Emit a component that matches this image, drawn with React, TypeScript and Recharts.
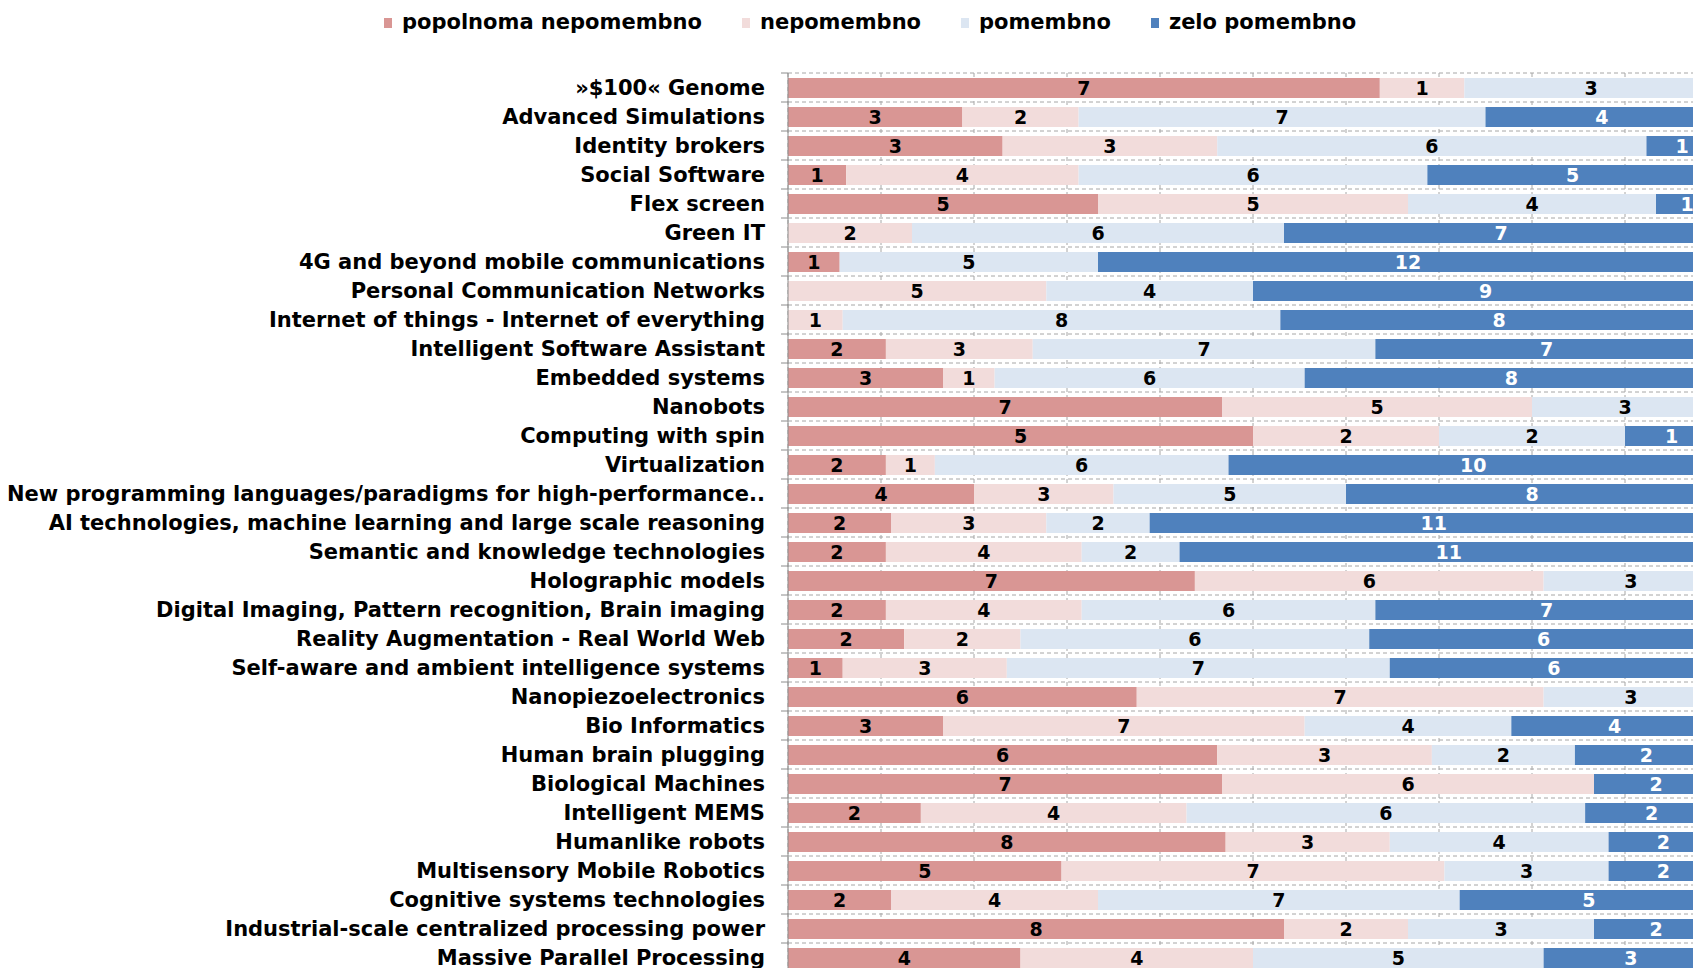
import { BarChart, Bar, XAxis, YAxis, CartesianGrid, Legend, LabelList } from "recharts";

const categories = [
  "»$100« Genome",
  "Advanced Simulations",
  "Identity brokers",
  "Social Software",
  "Flex screen",
  "Green IT",
  "4G and beyond mobile communications",
  "Personal Communication Networks",
  "Internet of things - Internet of everything",
  "Intelligent Software Assistant",
  "Embedded systems",
  "Nanobots",
  "Computing with spin",
  "Virtualization",
  "New programming languages/paradigms for high-performance..",
  "AI technologies, machine learning and large scale reasoning",
  "Semantic and knowledge technologies",
  "Holographic models",
  "Digital Imaging, Pattern recognition, Brain imaging",
  "Reality Augmentation - Real World Web",
  "Self-aware and ambient intelligence systems",
  "Nanopiezoelectronics",
  "Bio Informatics",
  "Human brain plugging",
  "Biological Machines",
  "Intelligent MEMS",
  "Humanlike robots",
  "Multisensory Mobile Robotics",
  "Cognitive systems technologies",
  "Industrial-scale centralized processing power",
  "Massive Parallel Processing",
];

const popolnomaNepomembno = [7, 3, 3, 1, 5, 0, 1, 0, 0, 2, 3, 7, 5, 2, 4, 2, 2, 7, 2, 2, 1, 6, 3, 6, 7, 2, 8, 5, 2, 8, 4];
const nepomembno = [1, 2, 3, 4, 5, 2, 0, 5, 1, 3, 1, 5, 2, 1, 3, 3, 4, 6, 4, 2, 3, 7, 7, 3, 6, 4, 3, 7, 4, 2, 4];
const pomembno = [3, 7, 6, 6, 4, 6, 5, 4, 8, 7, 6, 3, 2, 6, 5, 2, 2, 3, 6, 6, 7, 3, 4, 2, 0, 6, 4, 3, 7, 3, 5];
const zeloPomembno = [0, 4, 1, 5, 1, 7, 12, 9, 8, 7, 8, 0, 1, 10, 8, 11, 11, 0, 7, 6, 6, 0, 4, 2, 2, 2, 2, 2, 5, 2, 3];

const series = [
  { key: "popolnoma", name: "popolnoma nepomembno", color: "#D99694", text: "#000000" },
  { key: "nepomembno", name: "nepomembno", color: "#F2DCDB", text: "#000000" },
  { key: "pomembno", name: "pomembno", color: "#DCE6F2", text: "#000000" },
  { key: "zelo", name: "zelo pomembno", color: "#4F81BD", text: "#FFFFFF" },
];

const data = categories.map((name, i) => ({
  name,
  popolnoma: popolnomaNepomembno[i],
  nepomembno: nepomembno[i],
  pomembno: pomembno[i],
  zelo: zeloPomembno[i],
}));

const FONT = "'DejaVu Sans', Verdana, sans-serif";

function CategoryTick(props: any) {
  const { x, y, payload } = props;
  const half = payload && payload.offset ? payload.offset : 14.5;
  return (
    <g>
      <line x1={x + 16} x2={x + 23} y1={y - half} y2={y - half} stroke="#8C8C8C" />
      <text
        x={x}
        y={y}
        textAnchor="end"
        dominantBaseline="central"
        fontFamily={FONT}
        fontWeight="bold"
        fontSize={21}
        fill="#000"
      >
        {payload.value}
      </text>
    </g>
  );
}

function LegendContent() {
  return (
    <div
      style={{
        height: 44,
        display: "flex",
        alignItems: "center",
        paddingLeft: 384,
        gap: 40,
        fontFamily: FONT,
        fontWeight: "bold",
        fontSize: 21,
        color: "#000",
      }}
    >
      {series.map((s) => (
        <div key={s.key} style={{ display: "flex", alignItems: "center" }}>
          <span
            style={{
              display: "inline-block",
              width: 8,
              height: 10,
              marginRight: 10,
              marginTop: 2,
              background: s.color,
            }}
          />
          <span>{s.name}</span>
        </div>
      ))}
    </div>
  );
}

export default function App() {
  return (
    <div
      style={{
        position: "fixed",
        left: 0,
        top: 0,
        width: 1693,
        height: 968,
        overflow: "hidden",
        background: "#fff",
      }}
    >
      <BarChart
        width={1760}
        height={1000}
        data={data}
        layout="vertical"
        stackOffset="expand"
        barSize={20}
        margin={{ top: 29, right: 42, bottom: 28, left: 0 }}
      >
        <CartesianGrid
          stroke="#A6A6A6"
          strokeDasharray="4 3"
          horizontalCoordinatesGenerator={({ offset }: any) =>
            categories.map((_, i) => offset.top + (i * offset.height) / categories.length)
          }
          verticalCoordinatesGenerator={({ offset }: any) =>
            Array.from({ length: 11 }, (_, i) => offset.left + (i * offset.width) / 10)
          }
        />
        <XAxis type="number" domain={[0, 1]} hide />
        <YAxis
          type="category"
          dataKey="name"
          width={788}
          axisLine={{ stroke: "#8C8C8C" }}
          tickLine={false}
          tickSize={0}
          tickMargin={23}
          interval={0}
          tick={<CategoryTick />}
        />
        <Legend
          verticalAlign="top"
          align="left"
          content={<LegendContent />}
          wrapperStyle={{ top: 0, left: 0, width: 1693 }}
        />
        {series.map((s) => (
          <Bar
            key={s.key}
            dataKey={s.key}
            name={s.name}
            stackId="a"
            fill={s.color}
            isAnimationActive={false}
          >
            <LabelList
              dataKey={s.key}
              position="center"
              fill={s.text}
              fontFamily={FONT}
              fontWeight="bold"
              fontSize={19}
              formatter={(v: any) => (v ? String(v) : "")}
            />
          </Bar>
        ))}
      </BarChart>
    </div>
  );
}
